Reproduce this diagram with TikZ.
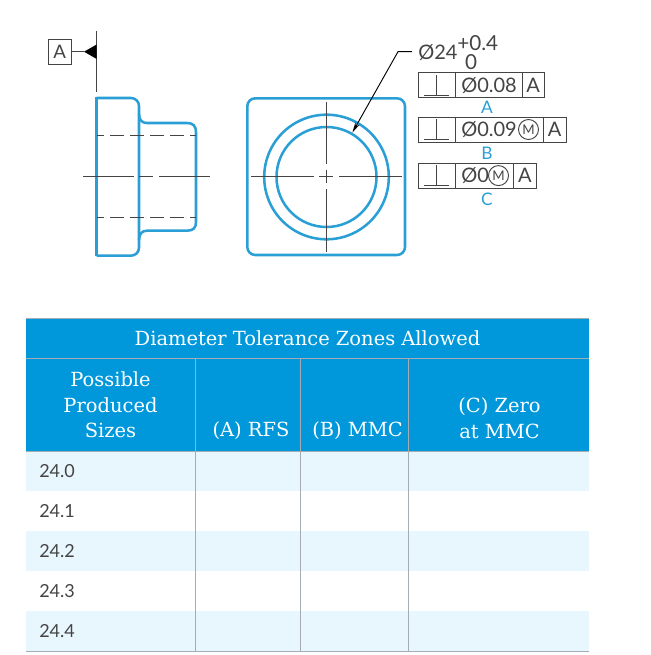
\documentclass[tikz,border=0pt]{standalone}
\usepackage{fontspec}
\setmainfont{Lato}
\newfontfamily\headfont{DejaVu Serif}
\usetikzlibrary{calc}
\usetikzlibrary{arrows.meta}
\definecolor{partblue}{HTML}{2A9FD6}
\definecolor{headblue}{HTML}{0098DA}
\definecolor{rowblue}{HTML}{E8F6FE}
\definecolor{gridgray}{HTML}{A3ADB3}
\definecolor{inkgray}{HTML}{444444}
\tikzset{%
  part/.style     = {draw = partblue, line width = 1.9pt},
  center/.style   = {draw = inkgray, line width = 0.75pt},
  hidden/.style   = {draw = inkgray, line width = 0.7pt, dash pattern = on 10.5pt off 4.5pt, dash phase = 5pt},
  cell/.style     = {draw = inkgray, line width = 0.7pt},
  grid/.style     = {draw = gridgray, line width = 0.7pt},
  frametext/.style = {text = inkgray, font = \fontsize{15}{15}\selectfont, inner sep = 0pt},
  letter/.style   = {text = partblue, font = \fontsize{13}{13}\selectfont},
  mmc/.style      = {draw = inkgray, line width = 0.7pt, circle, minimum size = 15pt, inner sep = 0pt, text = inkgray, font = \fontsize{10}{10}\selectfont},
  head/.style     = {text = white, align = center, font = \headfont\fontsize{14.6}{19.3}\selectfont},
  size/.style     = {text = inkgray, font = \fontsize{13.5}{13.5}\selectfont, anchor = west, inner sep = 0pt}
}

\begin{document}
\begin{tikzpicture}[x=0.75pt, y=-0.75pt]
    \useasboundingbox (0, 0) rectangle (650, 655);

    %datum
    \node[draw = inkgray, line width = 0.7pt, minimum width = 17.5pt, minimum height = 18.5pt, inner sep = 0pt, text = inkgray, font = \fontsize{14}{14}\selectfont] (datumA) at (59.7, 51.7) {A};
    \coordinate (datumTip) at (84, 51.7);
    \coordinate (datumTop) at (96.7, 31);
    \coordinate (datumEnd) at (96.7, 92);
    \draw[center] (datumA) -- (datumTip);
    \draw[center] (datumTop) -- (datumEnd);
    \fill[black] (datumTip) -- (96.7, 44.5) -- (96.7, 59) -- cycle;

    %side view
    \draw[part, rounded corners = 6pt] (96.7, 98) -- (139, 98) -- (139, 255.7) -- (96.7, 255.7);
    \draw[part] (96.7, 97.3) -- (96.7, 256.4);
    \draw[part] (139, 114) .. controls (139, 120) and (142, 123) .. (147, 123) -- (187, 123) .. controls (193, 123) and (196, 126) .. (196, 132) -- (196, 222) .. controls (196, 228) and (193, 230.7) .. (187, 230.7) -- (147, 230.7) .. controls (142, 230.7) and (139, 234) .. (139, 240);
    \draw[hidden] (97, 135.3) -- (196, 135.3);
    \draw[hidden] (97, 217.7) -- (196, 217.7);
    \draw[center] (83, 176.7) -- (134, 176.7);
    \draw[center] (139, 176.7) -- (153, 176.7);
    \draw[center] (159, 176.7) -- (210, 176.7);

    %front view
    \draw[part, rounded corners = 6pt] (247.3, 98.3) rectangle (405, 255);
    \draw[part] (326.5, 177) circle (62.3);
    \draw[part] (326.5, 177) circle (50);
    \draw[center] (251, 177) -- (314, 177);
    \draw[center] (319, 177) -- (333, 177);
    \draw[center] (339, 177) -- (402, 177);
    \draw[center] (326.5, 101.7) -- (326.5, 164);
    \draw[center] (326.5, 170) -- (326.5, 183);
    \draw[center] (326.5, 189) -- (326.5, 252);

    %size callout
    \node[text = inkgray, font = \fontsize{15}{15}\selectfont, anchor = west, inner sep = 0pt] (sizeDia) at (418, 53) {Ø24};
    \node[text = inkgray, font = \fontsize{15.5}{15.5}\selectfont, anchor = west, inner sep = 0pt] (sizeUpper) at (457, 43.5) {+0.4};
    \node[text = inkgray, font = \fontsize{15.5}{15.5}\selectfont, inner sep = 0pt] (sizeLower) at (471, 62.5) {0};
    \coordinate (leaderStart) at ($(sizeDia.west) + (-6, -1.3)$);
    \coordinate (leaderTip) at (352.3, 132.7);
    \draw[draw = black, line width = 0.7pt, -{Stealth[length = 8pt, width = 3.5pt]}] (leaderStart) -- (398, 51.7) -- (leaderTip);

    %frame A
    \draw[cell] (418.3, 72.7) rectangle (455.7, 97.7) node[pos=.5] (frameAsym) {};
    \draw[cell] (455.7, 72.7) rectangle (522, 97.7) node[pos=.5] (frameAtol) {};
    \draw[cell] (522, 72.7) rectangle (544.3, 97.7) node[pos=.5, frametext] (frameAdat) {A};
    \node[frametext, anchor = west] (frameAval) at (461, 85.2) {Ø0.08};
    \node[letter] (labelA) at (487, 107) {A};
    \draw[cell] (424.3, 95) -- (449.3, 95);
    \draw[cell] (436.7, 75) -- (436.7, 95);

    %frame B
    \draw[cell] (418.3, 117) rectangle (455.7, 142) node[pos=.5] (frameBsym) {};
    \draw[cell] (455.7, 117) rectangle (543.5, 142) node[pos=.5] (frameBtol) {};
    \draw[cell] (543.5, 117) rectangle (566, 142) node[pos=.5, frametext] (frameBdat) {A};
    \node[frametext, anchor = west] (frameBval) at (461, 129.5) {Ø0.09};
    \node[mmc] (frameBmmc) at (528.5, 129.5) {M};
    \node[letter] (labelB) at (487, 153) {B};
    \draw[cell] (424.3, 139.3) -- (449.3, 139.3);
    \draw[cell] (436.7, 119.3) -- (436.7, 139.3);

    %frame C
    \draw[cell] (418.3, 163) rectangle (455.7, 188.3) node[pos=.5] (frameCsym) {};
    \draw[cell] (455.7, 163) rectangle (513.7, 188.3) node[pos=.5] (frameCtol) {};
    \draw[cell] (513.7, 163) rectangle (536.3, 188.3) node[pos=.5, frametext] (frameCdat) {A};
    \node[frametext, anchor = west] (frameCval) at (461, 175.6) {Ø0};
    \node[mmc] (frameCmmc) at (498.5, 175.6) {M};
    \node[letter] (labelC) at (487, 199) {C};
    \draw[cell] (424.3, 185.3) -- (449.3, 185.3);
    \draw[cell] (436.7, 165.3) -- (436.7, 185.3);

    %table head
    \fill[headblue] (26, 318) rectangle (589, 451);
    \node[head] (title) at (307.5, 338.5) {Diameter Tolerance Zones Allowed};
    \node[head] (headSizes) at (110.5, 405) {Possible\\Produced\\Sizes};
    \node[head] (headA) at (251, 431) {(A) RFS};
    \node[head] (headB) at (357.5, 431) {(B) MMC};
    \node[head] (headC) at (499.5, 418.5) {(C) Zero\\at MMC};

    %table rows
    \fill[rowblue] (26, 451) rectangle (589, 491);
    \fill[rowblue] (26, 531) rectangle (589, 571);
    \fill[rowblue] (26, 611) rectangle (589, 651);
    \node[size] (row0) at (39, 471.5) {24.0};
    \node[size] (row1) at (39, 511.5) {24.1};
    \node[size] (row2) at (39, 551.5) {24.2};
    \node[size] (row3) at (39, 591.5) {24.3};
    \node[size] (row4) at (39, 631.5) {24.4};

    %table grid
    \draw[grid] (26, 318) -- (589, 318);
    \draw[grid] (26, 358) -- (589, 358);
    \draw[grid] (26, 451) -- (589, 451);
    \draw[grid] (26, 651) -- (589, 651);
    \draw[grid] (195, 358) -- (195, 651);
    \draw[grid] (300, 358) -- (300, 651);
    \draw[grid] (408, 358) -- (408, 651);
\end{tikzpicture}
\end{document}
